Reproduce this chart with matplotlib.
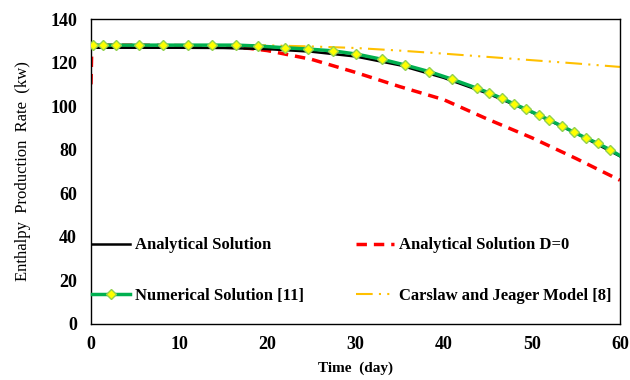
import numpy as np
import matplotlib.pyplot as plt

plt.rcParams['font.family'] = ['Liberation Serif', 'DejaVu Serif']

# ---- data ----
t_ana = [0, 5, 10, 15, 20, 25, 30, 35, 40, 45, 50, 55, 60]
q_ana = [126.8, 126.8, 126.8, 126.7, 126.2, 125.0, 122.8, 118.8, 113.0, 105.8, 97.2, 87.6, 77.0]

t_d0 = [0, 0.1, 5, 10, 15, 18, 20, 25, 30, 35, 40, 45, 50, 55, 60]
q_d0 = [110.0, 128.0, 128.0, 127.8, 127.2, 126.5, 125.5, 121.5, 115.5, 109.0, 103.0, 94.0, 85.5, 76.0, 66.0]

t_num = [0.2, 1.4, 2.8, 5.5, 8.2, 11.0, 13.7, 16.5, 19.0, 22.0, 24.6, 27.4, 30.1, 33.0, 35.6,
         38.4, 41.0, 43.8, 45.1, 46.6, 48.0, 49.4, 50.8, 52.0, 53.4, 54.8, 56.1, 57.5, 58.9, 60.0]
q_num = [128.0, 128.0, 128.0, 128.0, 128.0, 128.0, 128.0, 128.0, 127.6, 126.8, 126.2, 125.4, 123.9, 121.5, 118.9,
         115.8, 112.3, 108.2, 106.2, 103.6, 101.0, 98.5, 95.9, 93.6, 90.9, 88.0, 85.5, 82.9, 79.9, 77.3]

t_cj = [0, 10, 20, 25, 30, 35, 40, 45, 50, 55, 60]
q_cj = [128.0, 128.0, 127.9, 127.4, 126.7, 125.5, 124.1, 122.6, 121.1, 119.6, 118.0]

fig = plt.figure(figsize=(6.3, 3.8), dpi=100)
ax = fig.add_axes([0.1444, 0.1474, 0.8396, 0.8026])

ax.plot(t_ana, q_ana, color='black', lw=1.8, label='Analytical Solution', zorder=3)
ax.plot(t_d0, q_d0, color='#FF0000', lw=2.5, ls=(0, (3, 2)), label='Analytical Solution D=0', zorder=2)
ax.plot(t_num, q_num, color='#00B050', lw=2.5, marker='D', ms=5,
        mfc='#FFFF00', mec='#92D050', mew=1.0, markevery=list(range(len(t_num) - 1)),
        label='Numerical Solution [11]', zorder=4)
ax.plot(t_cj, q_cj, color='#FFC000', lw=1.5, ls=(0, (8, 3, 1, 3, 1, 3)),
        label='Carslaw and Jeager Model [8]', zorder=1)

ax.set_xlim(0, 60)
ax.set_ylim(0, 140)
ax.set_xticks(np.arange(0, 61, 10))
ax.set_yticks(np.arange(0, 141, 20))
ax.tick_params(length=0, labelsize=13)
ax.tick_params(axis='x', pad=9)
ax.tick_params(axis='y', pad=10)
for lab in ax.get_xticklabels() + ax.get_yticklabels():
    lab.set_fontweight('bold')
for s in ax.spines.values():
    s.set_linewidth(1.0)

ax.set_xlabel('Time  (day)', fontsize=11, fontweight='bold', labelpad=6)
ax.set_ylabel('Enthalpy  Production  Rate  (kw)', fontsize=12, labelpad=14)

h, l = ax.get_legend_handles_labels()
order = [0, 2, 1, 3]
leg = ax.legend([h[i] for i in order], [l[i] for i in order], ncol=2, frameon=False,
                loc='lower left', bbox_to_anchor=(0.002, 0.065), borderaxespad=0, borderpad=0,
                prop={'weight': 'bold', 'size': 12},
                handlelength=2.3, handletextpad=0.3, labelspacing=2.08, columnspacing=3.1)

fig.savefig('out.png', dpi=100)
